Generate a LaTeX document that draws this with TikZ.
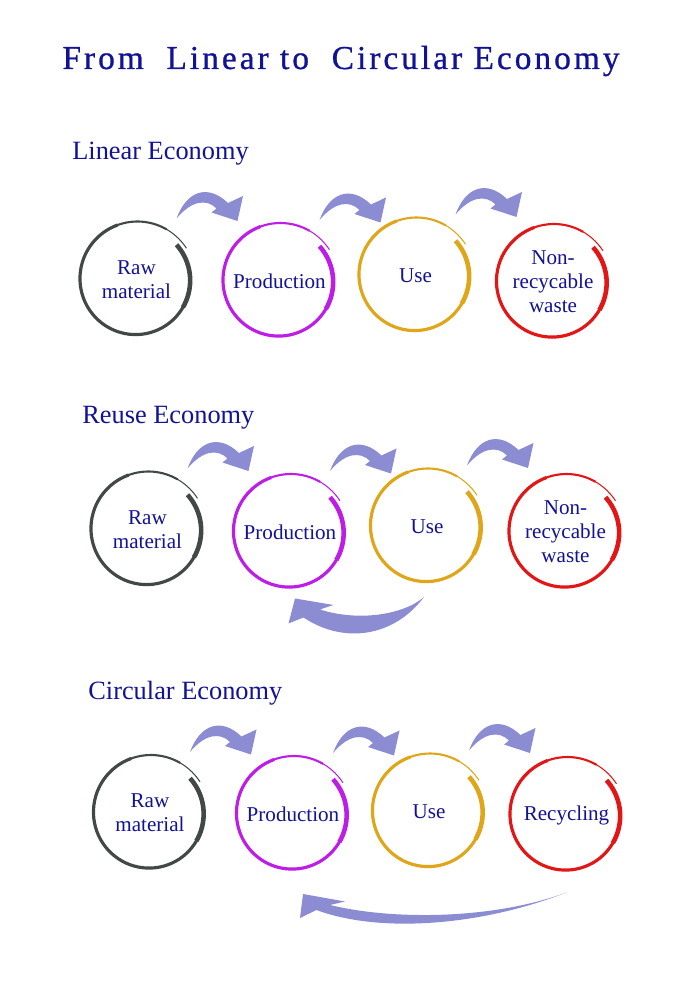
\documentclass[tikz,border=0pt]{standalone}
\usepackage{fontspec}
\setmainfont{Liberation Serif}
\newfontfamily\titlefont[LetterSpace=9,FakeBold=0.8]{Liberation Serif}
\usetikzlibrary{calc}
\definecolor{ink}{RGB}{18,18,150}
\definecolor{slate}{RGB}{66,72,70}
\definecolor{orchid}{RGB}{188,30,232}
\definecolor{mustard}{RGB}{222,166,24}
\definecolor{scarlet}{RGB}{226,22,22}
\definecolor{lilac}{RGB}{140,140,210}
\tikzset{
  stage/.style={circle,minimum size=22mm,inner sep=0pt,align=center,text=ink,
    font=\fontsize{12}{13.6}\selectfont},
  heading/.style={anchor=base west,inner sep=0pt,text=ink,font=\fontsize{15}{18}\selectfont},
  % hand drawn ring, a little more than one turn
  pics/ring/.style={code={
    \draw[#1,line width=2.6pt] plot[smooth,samples=20,domain=41:-31,variable=\t] ({\t}:{1.06+(41-\t)*0.000325});
    \draw[#1,line width=1.8pt] plot[smooth,samples=50,domain=-30:-251,variable=\t] ({\t}:{1.06+(41-\t)*0.000325});
    \draw[#1,line width=1.2pt] plot[smooth,samples=15,domain=-250:-301,variable=\t] ({\t}:{1.06+(41-\t)*0.000325});
    \draw[#1,line width=0.6pt] plot[smooth,samples=10,domain=-300:-328,variable=\t] ({\t}:{1.06+(41-\t)*0.000325});
  }},
  pics/ring/.default=slate,
  % arrows
  pics/hop/.style={code={
    \fill[lilac] (0,0) .. controls (0.2,0.55) and (0.62,0.7) .. (1.03,0.31) -- (1.33,0.45)
      -- (1.22,-0.05) -- (0.7,0.12) -- (0.8,0.2) .. controls (0.6,0.4) and (0.3,0.36) .. (0,0);
  }},
  pics/backhop/.style={code={
    \fill[lilac] (0,0) .. controls (-0.4,-0.35) and (-1.3,-0.5) .. (-2.08,-0.25) -- (-1.81,-0.16)
      -- (-2.58,-0.03) -- (-2.71,-0.53) -- (-2.41,-0.41) .. controls (-1.6,-0.95) and (-0.6,-0.8) .. (0,0);
  }},
  pics/backsweep/.style={code={
    \fill[lilac] (0,0) .. controls (-1.5,-0.55) and (-3.5,-0.55) .. (-4.73,-0.25) -- (-4.43,-0.18)
      -- (-5.27,-0.03) -- (-5.33,-0.51) -- (-5.0,-0.35) .. controls (-3.8,-0.8) and (-1.8,-0.7) .. (0,0);
  }},
}
\begin{document}
\begin{tikzpicture}
  \fill[white] (0,0) rectangle (13.84,20);
  \useasboundingbox (0,0) rectangle (13.84,20);

  \node[anchor=base,inner sep=0pt,text=ink,font=\titlefont\fontsize{19}{23}\selectfont] (title) at (6.82,18.62)
    {From\ \ Linear to\ \ Circular Economy};

  % linear
  \node[heading] (lin) at (1.44,16.8) {Linear Economy};
  \node[stage] (raw1) at (2.73,14.41) {Raw\\material};
  \node[stage] (prod1) at (5.59,14.38) {Production};
  \node[stage] (use1) at (8.31,14.49) {Use};
  \node[stage] (non1) at (11.06,14.36) {Non-\\recycable\\waste};

  % reuse
  \node[heading] (reu) at (1.64,11.52) {Reuse Economy};
  \node[stage] (raw2) at (2.95,9.41) {Raw\\material};
  \node[stage] (prod2) at (5.80,9.36) {Production};
  \node[stage] (use2) at (8.54,9.47) {Use};
  \node[stage] (non2) at (11.31,9.36) {Non-\\recycable\\waste};

  % circular
  \node[heading] (cir) at (1.76,6.0) {Circular Economy};
  \node[stage] (raw3) at (3.0,3.74) {Raw\\material};
  \node[stage] (prod3) at (5.86,3.72) {Production};
  \node[stage] (use3) at (8.58,3.77) {Use};
  \node[stage] (rec3) at (11.33,3.70) {Recycling};

  \foreach \n/\c in {raw1/slate,prod1/orchid,use1/mustard,non1/scarlet,
                     raw2/slate,prod2/orchid,use2/mustard,non2/scarlet,
                     raw3/slate,prod3/orchid,use3/mustard,rec3/scarlet}
    \pic at (\n.center) {ring=\c};

  \foreach \a in {raw1,prod1,use1,raw2,prod2,use2,raw3,prod3,use3}
    \pic at ([shift={(0.8,1.22)}]\a.center) {hop};

  \pic at ([shift={(-0.06,-1.41)}]use2.center) {backhop};
  \pic at ([shift={(0,-1.55)}]rec3.center) {backsweep};
\end{tikzpicture}
\end{document}
